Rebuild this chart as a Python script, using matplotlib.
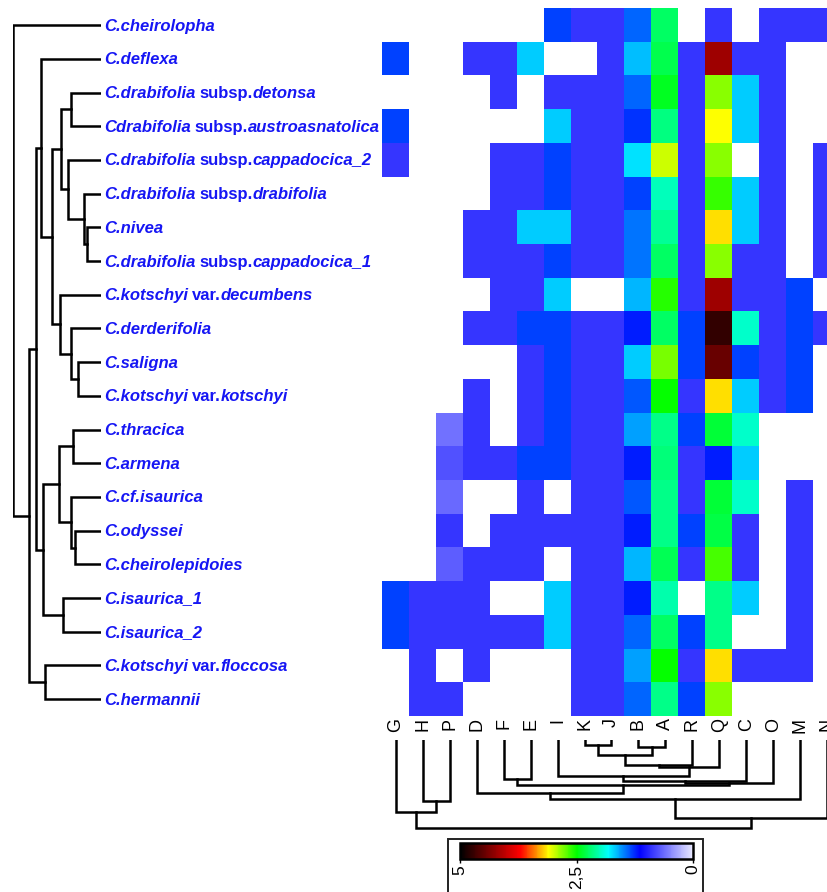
"""Heatmap with row and column dendrograms for Centaurea taxa."""

import numpy as np
import matplotlib
matplotlib.use("Agg")
import matplotlib.pyplot as plt
from matplotlib.colors import LinearSegmentedColormap
from matplotlib.patches import Rectangle
from matplotlib.transforms import offset_copy

N = np.nan

# "|" splits italic / upright parts of a label
row_labels = [
    "C.cheirolopha",
    "C.deflexa",
    "C.drabifolia| subsp.|detonsa",
    "Cdrabifolia| subsp.|austroasnatolica",
    "C.drabifolia| subsp.|cappadocica_2",
    "C.drabifolia| subsp.|drabifolia",
    "C.nivea",
    "C.drabifolia| subsp.|cappadocica_1",
    "C.kotschyi| var.|decumbens",
    "C.derderifolia",
    "C.saligna",
    "C.kotschyi| var.|kotschyi",
    "C.thracica",
    "C.armena",
    "C.cf.isaurica",
    "C.odyssei",
    "C.cheirolepidoies",
    "C.isaurica_1",
    "C.isaurica_2",
    "C.kotschyi| var.|floccosa",
    "C.hermannii",
]

col_labels = ["G", "H", "P", "D", "F", "E", "I", "K", "J",
              "B", "A", "R", "Q", "C", "O", "M", "N"]

values = np.array([
    [N, N, N, N, N, N, 1.32, 0.89, 0.89, 1.41, 2.23, N, 0.89, N, 0.89, 0.89, 0.89],
    [1.32, N, N, 0.89, 0.89, 1.68, N, N, 0.89, 1.65, 2.30, 0.89, 4.19, 0.89, 0.89, N, N],
    [N, N, N, N, 0.89, N, 0.89, 0.89, 0.89, 1.41, 2.41, 0.89, 2.82, 1.68, 0.89, N, N],
    [1.32, N, N, N, N, N, 1.68, 0.89, 0.89, 1.28, 2.16, 0.89, 3.10, 1.68, 0.89, N, N],
    [0.89, N, N, N, 0.89, 0.89, 1.32, 0.89, 0.89, 1.74, 2.98, 0.89, 2.82, N, 0.89, N, 0.89],
    [N, N, N, N, 0.89, 0.89, 1.32, 0.89, 0.89, 1.31, 2.00, 0.89, 2.62, 1.68, 0.89, N, 0.89],
    [N, N, N, 0.89, 0.89, 1.68, 1.68, 0.89, 0.89, 1.46, 2.09, 0.89, 3.17, 1.68, 0.89, N, 0.89],
    [N, N, N, 0.89, 0.89, 0.89, 1.32, 0.89, 0.89, 1.46, 2.23, 0.89, 2.82, 0.89, 0.89, N, 0.89],
    [N, N, N, N, 0.89, 0.89, 1.68, N, N, 1.64, 2.58, 0.89, 4.19, 0.89, 0.89, 1.32, N],
    [N, N, N, 0.89, 0.89, 1.32, 1.32, 0.89, 0.89, 1.23, 2.23, 1.32, 4.74, 1.96, 0.89, 1.32, 0.89],
    [N, N, N, N, N, 0.89, 1.32, 0.89, 0.89, 1.68, 2.78, 1.32, 4.46, 1.32, 0.89, 1.32, N],
    [N, N, N, 0.89, N, 0.89, 1.32, 0.89, 0.89, 1.37, 2.50, 0.89, 3.17, 1.68, 0.89, 1.32, N],
    [N, N, 0.60, 0.89, N, 0.89, 1.32, 0.89, 0.89, 1.57, 2.14, 1.32, 2.36, 1.96, N, N, N],
    [N, N, 0.75, 0.89, 0.89, 1.32, 1.32, 0.89, 0.89, 1.23, 2.18, 0.89, 1.23, 1.68, N, N, N],
    [N, N, 0.63, N, N, 0.89, N, 0.89, 0.89, 1.37, 2.14, 0.89, 2.36, 1.96, N, 0.89, N],
    [N, N, 0.89, N, 0.89, 0.89, 0.89, 0.89, 0.89, 1.23, 2.14, 1.32, 2.32, 0.89, N, 0.89, N],
    [N, N, 0.70, 0.89, 0.89, 0.89, N, 0.89, 0.89, 1.64, 2.27, 0.89, 2.66, 0.89, N, 0.89, N],
    [1.32, 0.89, 0.89, 0.89, N, N, 1.68, 0.89, 0.89, 1.23, 2.05, N, 2.14, 1.68, N, 0.89, N],
    [1.32, 0.89, 0.89, 0.89, 0.89, 0.89, 1.68, 0.89, 0.89, 1.41, 2.23, 1.32, 2.14, N, N, 0.89, N],
    [N, 0.89, N, 0.89, N, N, N, 0.89, 0.89, 1.57, 2.50, 0.89, 3.17, 0.89, 0.89, 0.89, N],
    [N, 0.89, 0.89, N, N, N, N, 0.89, 0.89, 1.41, 2.14, 1.32, 2.82, N, N, N, N],
])

# trees as (height, left, right); ints are leaf indices
row_tree = (88, 0,
            (72,
             (65,
              (60, 1,
               (49,
                (40, (30, 2, 3), (33, 4, (17, 5, (14, 6, 7)))),
                (41, 8, (30, 9, (23, 10, 11))))),
              (58,
               (42, (28, 12, 13), (30, 14, (26, 15, 16))),
               (38, 17, 18))),
             (56, 19, 20)))

col_tree = (88.3,
            (71.7, 0, (60.7, 1, 2)),
            (78.3,
             (59,
              (52.7, 3,
               (45, (39, 4, 5),
                (43,
                 (40.7,
                  (36.3, 6,
                   (27.3, (25, (15, (5, 7, 8), (6.7, 9, 10)), 11), 12)),
                  13),
                 14))),
              15),
             16))

W, H = 828, 892
LABEL_BLUE = "#1616f4"


def px_axes(fig, x0, y0, x1, y1):
    """Axes from pixel box (top-left origin)."""
    return fig.add_axes([x0 / W, 1 - y1 / H, (x1 - x0) / W, (y1 - y0) / H])


def draw_tree(ax, node, horizontal):
    """Draw dendrogram recursively, return (position, height)."""
    if isinstance(node, int):
        return node, 0.0
    h, a, b = node
    pa, ha = draw_tree(ax, a, horizontal)
    pb, hb = draw_tree(ax, b, horizontal)
    hs = [ha, h, h, hb]
    ps = [pa, pa, pb, pb]
    if horizontal:
        ax.plot(hs, ps, color="black", lw=1.8, solid_joinstyle="miter")
    else:
        ax.plot(ps, hs, color="black", lw=1.8, solid_joinstyle="miter")
    return (pa + pb) / 2, h


def main():
    fig = plt.figure(figsize=(W / 100, H / 100), dpi=100)
    renderer = fig.canvas.get_renderer()

    cmap = LinearSegmentedColormap.from_list("heat", [
        (0.0, (0.92, 0.92, 1.0)),
        (0.228, (0.0, 0.0, 1.0)),
        (0.364, (0.0, 1.0, 1.0)),
        (0.5, (0.0, 1.0, 0.0)),
        (0.62, (1.0, 1.0, 0.0)),
        (0.742, (1.0, 0.0, 0.0)),
        (1.0, (0.0, 0.0, 0.0)),
    ])
    cmap.set_bad("white")

    # heatmap
    ax_heat = px_axes(fig, 382.5, 8.3, 840.5, 716)
    im = ax_heat.imshow(np.ma.masked_invalid(values), cmap=cmap, vmin=0, vmax=5,
                        aspect="auto", interpolation="nearest")
    ax_heat.set_xlim(-0.5, len(col_labels) - 0.5)
    ax_heat.set_ylim(len(row_labels) - 0.5, -0.5)
    ax_heat.axis("off")

    lab_trans = offset_copy(ax_heat.get_xaxis_transform(), fig=fig, x=0, y=-2, units="dots")
    for j, lab in enumerate(col_labels):
        ax_heat.text(j, 0, lab, transform=lab_trans, rotation=90, ha="center", va="top",
                     fontsize=13, family="Liberation Sans", clip_on=False)

    # row dendrogram
    ax_row = px_axes(fig, 13, 8.3, 101, 716)
    draw_tree(ax_row, row_tree, horizontal=True)
    ax_row.set_xlim(88, 0)
    ax_row.set_ylim(len(row_labels) - 0.5, -0.5)
    ax_row.axis("off")

    base = ax_row.get_yaxis_transform()
    for i, label in enumerate(row_labels):
        dx = 3
        for part in label.split("|"):
            if part.startswith(" "):
                dx += 4
                part = part.strip()
            style = "normal" if part in ("subsp.", "var.") else "italic"
            t = ax_row.text(1.0, i, part,
                            transform=offset_copy(base, fig=fig, x=dx, y=-5.5, units="dots"),
                            ha="left", va="baseline", fontsize=12, fontweight="bold",
                            fontstyle=style, family="Liberation Sans", color=LABEL_BLUE,
                            clip_on=False)
            dx += t.get_window_extent(renderer).width

    # column dendrogram
    ax_col = px_axes(fig, 382.5, 740, 840.5, 830)
    draw_tree(ax_col, col_tree, horizontal=False)
    ax_col.set_xlim(-0.5, len(col_labels) - 0.5)
    ax_col.set_ylim(90, 0)
    ax_col.axis("off")

    # colour key
    fig.add_artist(Rectangle((448.3 / W, -0.05), (703.3 - 448.3) / W, 1 - 839.3 / H + 0.05,
                             transform=fig.transFigure, fill=False, lw=1.4, ec="#222222"))
    cax = px_axes(fig, 460, 843.3, 693.3, 859.3)
    cb = fig.colorbar(im, cax=cax, orientation="horizontal")
    cax.set_xlim(5, 0)
    cb.set_ticks([5, 2.5, 0])
    cb.set_ticklabels(["5", "2,5", "0"])
    cb.outline.set_linewidth(1.8)
    cax.tick_params(axis="x", length=3, width=1, labelsize=12.5, pad=1, labelrotation=90)
    for t in cax.get_xticklabels():
        t.set_family("Liberation Sans")

    fig.savefig("out.png", dpi=100, facecolor="white")


if __name__ == "__main__":
    main()
